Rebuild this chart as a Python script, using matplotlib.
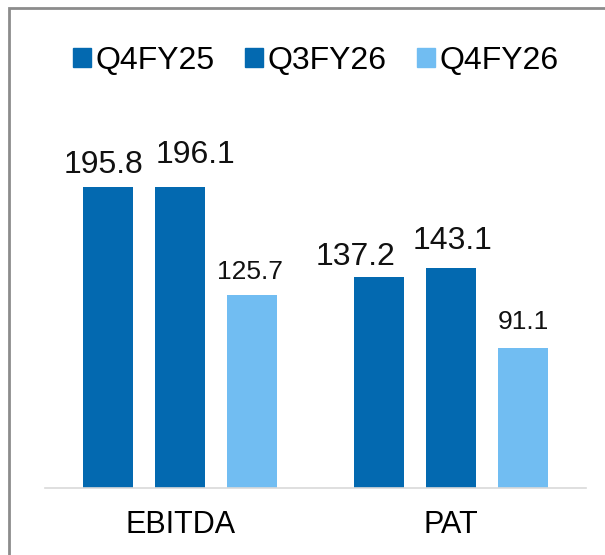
import matplotlib.pyplot as plt
import numpy as np
from matplotlib.patches import Patch, Rectangle

plt.rcParams['font.family'] = ['Liberation Sans', 'DejaVu Sans']

categories = ['EBITDA', 'PAT']
series = ['Q4FY25', 'Q3FY26', 'Q4FY26']
q4fy25 = [195.8, 137.2]
q3fy26 = [196.1, 143.1]
q4fy26 = [125.7, 91.1]

colors = ['#0369B0', '#0369B0', '#71BDF2']
label_sizes = [23, 23, 19]
# hand-placed label offsets in pixels (dx, gap above bar) per series / category
label_offsets = [[(-4.5, 14), (-23, 12)],
                 [(15.5, 24), (2, 19)],
                 [(-2, 16), (0, 19)]]


def main():
    fig = plt.figure(figsize=(6.05, 5.55), dpi=100)
    ax = fig.add_axes([45 / 605, 67 / 555, 541 / 605, 388 / 555])

    x = np.arange(len(categories))
    width = 0.185
    offset = 0.267
    values = [q4fy25, q3fy26, q4fy26]

    for i, vals in enumerate(values):
        xs = x + (i - 1) * offset
        ax.bar(xs, vals, width, color=colors[i], label=series[i])
        for j, v in enumerate(vals):
            dx, dy = label_offsets[i][j]
            ax.annotate(f'{v:.1f}', (xs[j], v), xytext=(dx * 0.72, dy * 0.72),
                        textcoords='offset points', ha='center', va='baseline',
                        fontsize=label_sizes[i], color='#111111')

    ax.set_xlim(-0.5, 1.5)
    ax.set_ylim(0, 252.4)
    ax.set_xticks(x, categories, fontsize=22)
    ax.tick_params(axis='x', length=0, pad=16)
    ax.set_yticks([])
    for s in ['top', 'left', 'right']:
        ax.spines[s].set_visible(False)
    ax.spines['bottom'].set_color('#d9d9d9')
    ax.spines['bottom'].set_linewidth(1.2)

    # legend with square markers
    handles = [Patch(color=c) for c in colors]
    fig.legend(handles, series, loc='center', bbox_to_anchor=(316 / 605, 1 - 61 / 555),
               ncol=3, frameon=False, fontsize=23, handlelength=0.56, handleheight=0.56,
               handletextpad=0.15, columnspacing=0.95, borderaxespad=0)

    # outer frame (only top and left edges visible in the crop)
    fig.patches.append(Rectangle((9 / 605, -0.1), 1.2, 1.1 - 8 / 555, transform=fig.transFigure,
                                 fill=False, edgecolor='#8c8c8c', linewidth=2))

    fig.savefig('out.png', dpi=100)


if __name__ == "__main__":
    main()
